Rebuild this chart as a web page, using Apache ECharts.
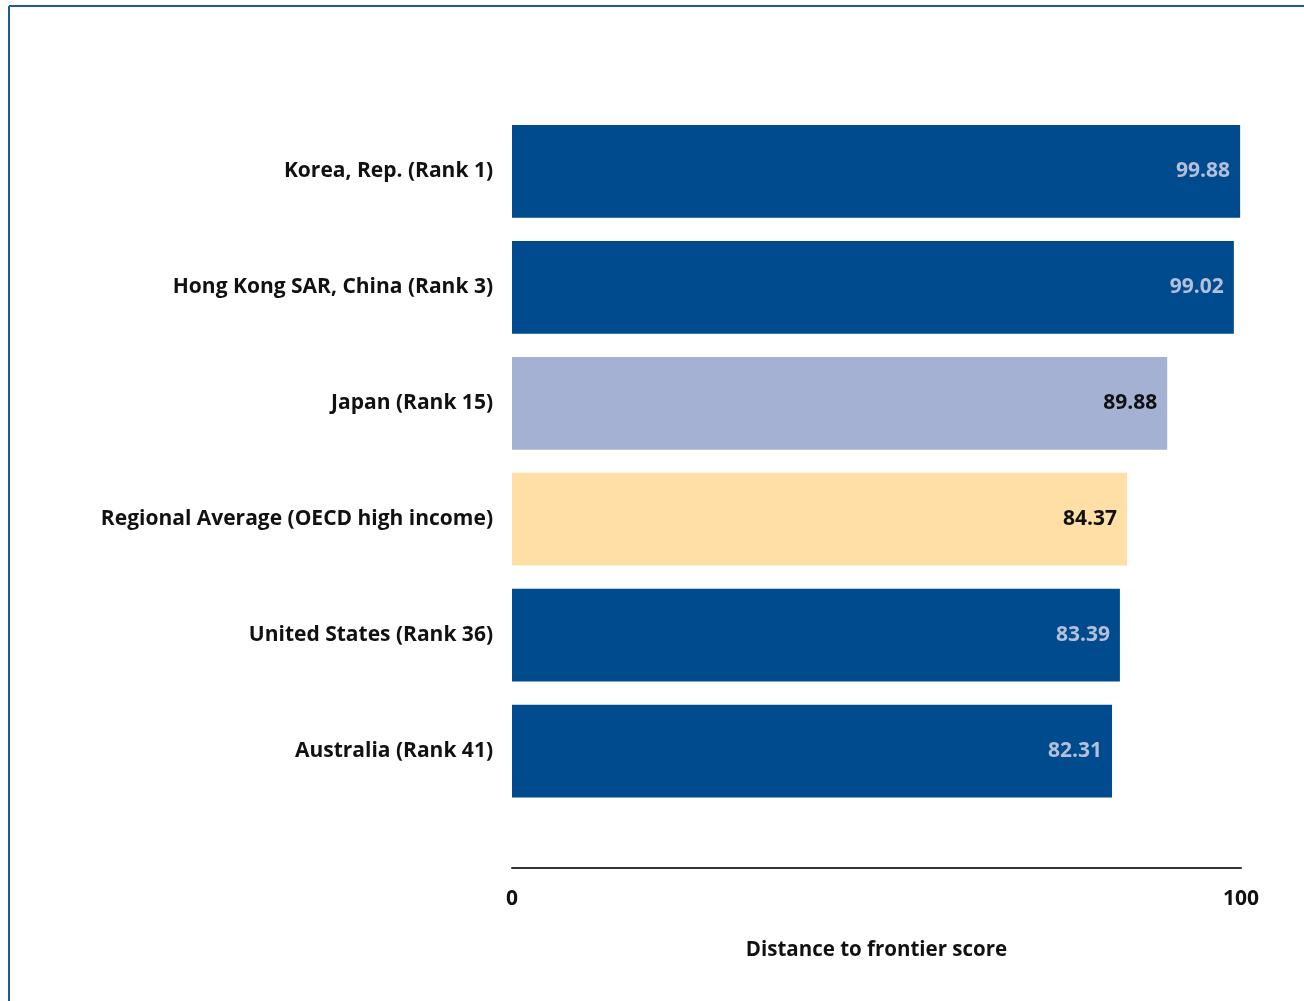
<!DOCTYPE html>
<html>
<head>
<meta charset="utf-8">
<script src="https://cdn.jsdelivr.net/npm/echarts@6/dist/echarts.min.js"></script>
<style>
  html, body { margin: 0; padding: 0; background: #fff; }
  #chart { width: 1304px; height: 1001px; }
</style>
</head>
<body>
<div id="chart"></div>
<script>
const categories = [
  "Korea, Rep. (Rank 1)",
  "Hong Kong SAR, China (Rank 3)",
  "Japan (Rank 15)",
  "Regional Average (OECD high income)",
  "United States (Rank 36)",
  "Australia (Rank 41)"
];
const scores = [99.88, 99.02, 89.88, 84.37, 83.39, 82.31];
// dark = economy bar, light = Japan, avg = regional average
const kinds = ["dark", "dark", "light", "avg", "dark", "dark"];

const fillOf = { dark: "#004b8d", light: "#a5b1d3", avg: "#ffdfa6" };
const labelOf = { dark: "#b3bfdb", light: "#111", avg: "#111" };
const font = "Open Sans";

let chart = echarts.init(document.getElementById("chart"));
chart.setOption({
  animation: false,
  graphic: [
    { type: "line", shape: { x1: 9, y1: 6, x2: 1304, y2: 6 }, style: { stroke: "#1f5a99", lineWidth: 2 } },
    { type: "line", shape: { x1: 9, y1: 6, x2: 9, y2: 1001 }, style: { stroke: "#1f5a99", lineWidth: 2 } }
  ],
  grid: { left: 512, top: 113.5, width: 729, height: 695.5, containLabel: false },
  xAxis: {
    type: "value",
    min: 0,
    max: 100,
    interval: 100,
    offset: 59,
    axisLine: { show: true, lineStyle: { color: "#333", width: 2 } },
    axisTick: { show: false },
    splitLine: { show: false },
    axisLabel: { margin: 21, fontFamily: font, fontWeight: "bold", fontSize: 21, color: "#111" },
    name: "Distance to frontier score",
    nameLocation: "middle",
    nameGap: 72,
    nameTextStyle: { fontFamily: font, fontWeight: "bold", fontSize: 20.5, color: "#111" }
  },
  yAxis: {
    type: "category",
    inverse: true,
    data: categories,
    axisLine: { show: false },
    axisTick: { show: false },
    axisLabel: { margin: 19, padding: [4, 0, 0, 0], fontFamily: font, fontWeight: "bold", fontSize: 21, color: "#111" }
  },
  series: [{
    type: "bar",
    barCategoryGap: "20%",
    data: scores.map((v, i) => ({
      value: v,
      itemStyle: { color: fillOf[kinds[i]] },
      label: { color: labelOf[kinds[i]] }
    })),
    label: {
      show: true,
      position: "insideRight",
      distance: 10,
      padding: [4, 0, 0, 0],
      fontFamily: font,
      fontWeight: "bold",
      fontSize: 21,
      formatter: p => p.value.toFixed(2)
    }
  }]
});
</script>
</body>
</html>
